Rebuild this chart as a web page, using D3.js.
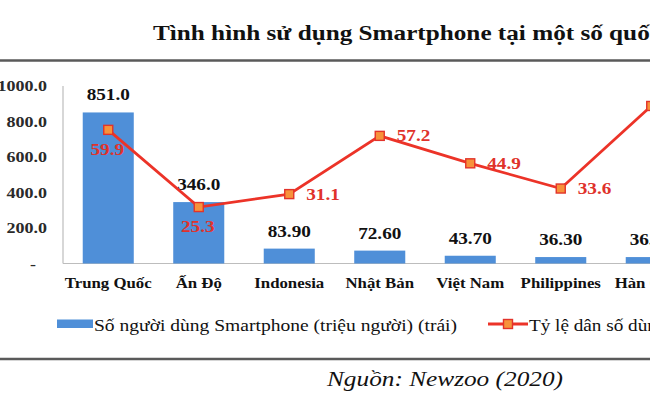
<!DOCTYPE html>
<html>
<head>
<meta charset="utf-8">
<script src="https://cdn.jsdelivr.net/npm/d3@7"></script>
<style>
  html, body { margin: 0; padding: 0; background: #fff; }
  svg { display: block; }
</style>
</head>
<body>
<svg id="chart" width="650" height="406"></svg>
<script>
// ---- data ----
const countries = ["Trung Quốc", "Ấn Độ", "Indonesia", "Nhật Bản", "Việt Nam", "Philippines", "Hàn Quốc"];
const users = [851.0, 346.0, 83.90, 72.60, 43.70, 36.30, 36.20];          // triệu người (trái)
const userLabels = ["851.0", "346.0", "83.90", "72.60", "43.70", "36.30", "36.20"];
const share = [59.9, 25.3, 31.1, 57.2, 44.9, 33.6, 70.6];                  // % (phải)
const leftTicks = [0, 200, 400, 600, 800, 1000];
const titleText = "Tình hình sử dụng Smartphone tại một số quốc gia";
const legendBar = "Số người dùng Smartphone (triệu người) (trái)";
const legendLine = "Tỷ lệ dân số dùng Smartphone (%) (phải)";
const sourceText = "Nguồn: Newzoo (2020)";

// ---- layout ----
const SX = 1.2; // horizontal stretch of the reference text
const svg = d3.select("#chart");
const serif = "'Liberation Serif', 'Times New Roman', serif";
const labelBelow = [true, true, false, false, false, false, false];

const x = d3.scaleBand().domain(countries).range([63, 63 + 90.5 * countries.length])
  .paddingInner(0.436).paddingOuter(0.218);
const yL = d3.scaleLinear().domain([0, 1000]).range([263.5, 86]);
const yR = d3.scaleLinear().domain([0, 80]).range([263.5, 85]);

function txt(g, str, px, py, opts) {
  const t = g.append("text")
    .attr("transform", `translate(${px},${py}) scale(${SX},1)`)
    .style("font-family", serif)
    .style("font-size", opts.size + "px")
    .style("font-weight", opts.weight || "400")
    .style("font-style", opts.style || "normal")
    .attr("fill", opts.fill || "#000")
    .attr("text-anchor", opts.anchor || "start")
    .text(str);
  if (opts.len) t.attr("textLength", opts.len / SX).attr("lengthAdjust", "spacingAndGlyphs");
  return t;
}

// title
txt(svg, titleText, 153, 40, {size: 21, weight: "bold", fill: "#111"});
svg.append("line").attr("x1", 0).attr("x2", 650).attr("y1", 60.5).attr("y2", 60.5)
  .attr("stroke", "#5a5a5a").attr("stroke-width", 2.5);

// axes
const gAxis = svg.append("g");
gAxis.append("line").attr("x1", 63).attr("x2", 63).attr("y1", yL(1000)).attr("y2", yL(0))
  .attr("stroke", "#bdbdbd").attr("stroke-width", 1.2);
gAxis.append("line").attr("x1", 63).attr("x2", 700).attr("y1", yL(0)).attr("y2", yL(0))
  .attr("stroke", "#bdbdbd").attr("stroke-width", 1.2);

leftTicks.forEach(v => {
  if (v === 0) {
    txt(gAxis, "-", 36, yL(v) + 5, {size: 15, weight: "bold", anchor: "end", fill: "#2a2a2a"});
  } else {
    txt(gAxis, d3.format(".1f")(v), 47, yL(v) + 5, {size: 15, weight: "bold", anchor: "end", fill: "#2a2a2a"});
  }
});

// bars
const gBars = svg.append("g");
gBars.selectAll("rect").data(countries).join("rect")
  .attr("x", d => x(d))
  .attr("width", x.bandwidth())
  .attr("y", (d, i) => yL(users[i]))
  .attr("height", (d, i) => yL(0) - yL(users[i]))
  .attr("fill", "#4f8fd8");

countries.forEach((c, i) => {
  txt(gBars, userLabels[i], x(c) + x.bandwidth() / 2, yL(users[i]) - 12, {size: 16, weight: "bold", anchor: "middle", fill: "#111"});
  txt(gBars, c, x(c) + x.bandwidth() / 2, 288, {size: 14, weight: "bold", anchor: "middle", fill: "#111"});
});

// line
const cx = (d, i) => x(countries[i]) + x.bandwidth() / 2;
const line = d3.line().x((d, i) => cx(d, i)).y(d => yR(d));
const gLine = svg.append("g");
gLine.append("path").datum(share).attr("d", line)
  .attr("fill", "none").attr("stroke", "#ec3328").attr("stroke-width", 2.8);
gLine.selectAll("rect").data(share).join("rect")
  .attr("x", (d, i) => cx(d, i) - 4.5).attr("y", d => yR(d) - 4.5)
  .attr("width", 9).attr("height", 9)
  .attr("fill", "#f7923a").attr("stroke", "#e2332a").attr("stroke-width", 1.4);
share.forEach((v, i) => {
  const px = cx(v, i), py = yR(v);
  if (labelBelow[i]) {
    txt(gLine, d3.format(".1f")(v), px - 1, py + 25, {size: 16, weight: "bold", anchor: "middle", fill: "#e0322b"});
  } else {
    txt(gLine, d3.format(".1f")(v), px + 17, py + 5.5, {size: 16, weight: "bold", anchor: "start", fill: "#e0322b"});
  }
});

// legend
const gLeg = svg.append("g");
gLeg.append("rect").attr("x", 57).attr("y", 319.5).attr("width", 36).attr("height", 8.5).attr("fill", "#4f8fd8");
txt(gLeg, legendBar, 94, 331, {size: 16, fill: "#111", len: 363});
gLeg.append("line").attr("x1", 488).attr("x2", 528).attr("y1", 324).attr("y2", 324)
  .attr("stroke", "#ec3328").attr("stroke-width", 2.8);
gLeg.append("rect").attr("x", 503.5).attr("y", 319.5).attr("width", 9).attr("height", 9)
  .attr("fill", "#f7923a").attr("stroke", "#e2332a").attr("stroke-width", 1.4);
txt(gLeg, legendLine, 529, 331, {size: 16, fill: "#111"});

svg.append("line").attr("x1", 0).attr("x2", 650).attr("y1", 359).attr("y2", 359)
  .attr("stroke", "#5a5a5a").attr("stroke-width", 2.5);

txt(svg, sourceText, 327, 386, {size: 20, style: "italic", fill: "#111", len: 236});
</script>
</body>
</html>
